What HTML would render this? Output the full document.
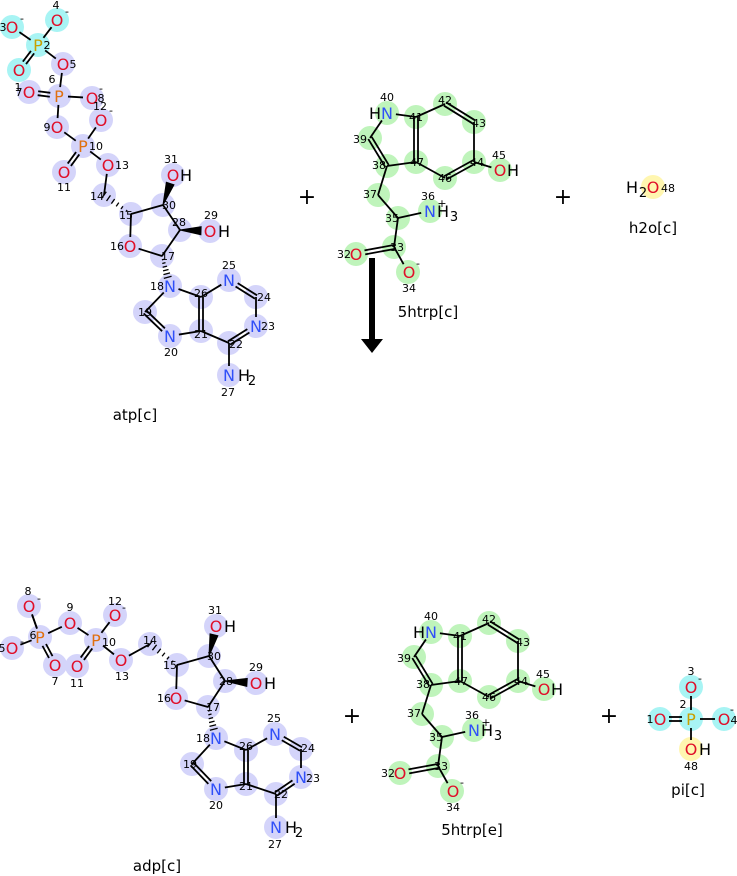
<!DOCTYPE html>
<html><head><meta charset="utf-8"><style>
html,body{margin:0;padding:0;background:#fff;width:737px;height:876px;overflow:hidden}
svg text{font-family:"DejaVu Sans","Liberation Sans",sans-serif}
.e{font-size:16px;text-anchor:middle}
.n{font-size:11px;fill:#000;text-anchor:middle}
.s{font-size:13px;fill:#000;text-anchor:middle}
.O{fill:#e0102a}.N{fill:#3050f8}.P{fill:#e07010}.P2{fill:#c8a000}.H{fill:#000}
.lb{font-size:15px;fill:#000;text-anchor:middle}
.pl{font-size:22px;fill:#000;text-anchor:middle}
</style></head><body>
<svg id="s" width="737" height="876" xmlns="http://www.w3.org/2000/svg">
<g id="circ"></g><g id="bond" stroke="#000" stroke-width="1.8" fill="none"></g><g id="wed" fill="#000" stroke="#000"></g>
<g id="txt">
<!-- ATP -->
<text class="e O" x="12" y="33">O</text><text class="n" x="3" y="31">3</text><text class="n" x="22" y="22">-</text>
<text class="e O" x="57" y="26">O</text><text class="n" x="56" y="9">4</text><text class="n" x="67" y="15">-</text>
<text class="e P2" x="38" y="51">P</text><text class="n" x="47" y="49">2</text>
<text class="e O" x="19" y="76">O</text><text class="n" x="18" y="91">1</text>
<text class="e O" x="63" y="70">O</text><text class="n" x="73" y="68">5</text>
<text class="e P" x="59" y="102">P</text><text class="n" x="52" y="83">6</text>
<text class="e O" x="29" y="98">O</text><text class="n" x="19" y="96">7</text>
<text class="e O" x="92" y="104">O</text><text class="n" x="101" y="102">8</text><text class="n" x="101" y="92">-</text>
<text class="e O" x="101" y="126">O</text><text class="n" x="100" y="110">12</text><text class="n" x="111" y="114">-</text>
<text class="e O" x="57" y="133">O</text><text class="n" x="47" y="131">9</text>
<text class="e P" x="83" y="152">P</text><text class="n" x="96" y="150">10</text>
<text class="e O" x="64" y="178">O</text><text class="n" x="64" y="191">11</text>
<text class="e O" x="108" y="171">O</text><text class="n" x="122" y="169">13</text>
<text class="n" x="97" y="200">14</text><text class="n" x="126" y="219">15</text>
<text class="e O" x="173" y="181">O</text><text class="e H" x="186" y="181">H</text><text class="n" x="171" y="163">31</text>
<text class="n" x="169" y="209">30</text><text class="n" x="179" y="226">28</text>
<text class="e O" x="210" y="237">O</text><text class="e H" x="224" y="237">H</text><text class="n" x="211" y="219">29</text>
<text class="e O" x="130" y="252">O</text><text class="n" x="117" y="250">16</text>
<text class="n" x="168" y="260">17</text>
<text class="e N" x="170" y="292">N</text><text class="n" x="157" y="290">18</text>
<text class="n" x="145" y="316">19</text>
<text class="e N" x="170" y="342">N</text><text class="n" x="171" y="356">20</text>
<text class="n" x="201" y="338">21</text><text class="n" x="201" y="297">26</text>
<text class="e N" x="229" y="286">N</text><text class="n" x="229" y="269">25</text>
<text class="n" x="264" y="301">24</text>
<text class="e N" x="256" y="332">N</text><text class="n" x="268" y="330">23</text>
<text class="n" x="236" y="348">22</text>
<text class="e N" x="229" y="381">N</text><text class="e H" x="244" y="381">H</text><text class="s" x="252" y="385">2</text><text class="n" x="228" y="396">27</text>
<text class="lb" x="135" y="420">atp[c]</text>
<text class="pl" x="307" y="204">+</text><text class="pl" x="563" y="204">+</text>
<!-- 5htrp c -->
<g>
<text class="e N" x="387" y="119">N</text><text class="e H" x="375" y="119">H</text><text class="n" x="387" y="101">40</text>
<text class="n" x="416" y="121">41</text><text class="n" x="445" y="104">42</text><text class="n" x="479" y="127">43</text>
<text class="n" x="477" y="166">44</text><text class="n" x="445" y="182">46</text><text class="n" x="417" y="166">47</text>
<text class="n" x="379" y="169">38</text><text class="n" x="360" y="143">39</text>
<text class="e O" x="500" y="176">O</text><text class="e H" x="513" y="176">H</text><text class="n" x="499" y="159">45</text>
<text class="n" x="370" y="198">37</text><text class="n" x="392" y="222">35</text>
<text class="e N" x="430" y="217">N</text><text class="e H" x="443" y="217">H</text><text class="s" x="454" y="221">3</text><text class="n" x="428" y="200">36</text><text class="n" x="442" y="207">+</text>
<text class="n" x="397" y="251">33</text>
<text class="e O" x="356" y="260">O</text><text class="n" x="344" y="258">32</text>
<text class="e O" x="409" y="278">O</text><text class="n" x="418" y="267">-</text><text class="n" x="409" y="292">34</text>
</g>
<text class="lb" x="428" y="317">5htrp[c]</text>
<text class="e H" x="632" y="193">H</text><text class="s" x="643" y="197">2</text><text class="e O" x="653" y="193">O</text><text class="n" x="668" y="192">48</text>
<text class="lb" x="653" y="233">h2o[c]</text>
<!-- ADP -->
<text class="e O" x="29" y="612">O</text><text class="n" x="28" y="595">8</text><text class="n" x="39" y="602">-</text>
<text class="e P" x="40" y="643">P</text><text class="n" x="33" y="639">6</text>
<text class="e O" x="12" y="654">O</text><text class="n" x="2" y="652">5</text><text class="n" x="22" y="645">-</text>
<text class="e O" x="55" y="671">O</text><text class="n" x="55" y="685">7</text>
<text class="e O" x="70" y="629">O</text><text class="n" x="70" y="611">9</text>
<text class="e P" x="96" y="646">P</text><text class="n" x="109" y="646">10</text>
<text class="e O" x="115" y="621">O</text><text class="n" x="115" y="605">12</text><text class="n" x="124" y="611">-</text>
<text class="e O" x="77" y="672">O</text><text class="n" x="77" y="687">11</text>
<text class="e O" x="121" y="666">O</text><text class="n" x="122" y="680">13</text>
<text class="n" x="150" y="644">14</text><text class="n" x="170" y="669">15</text>
<text class="e O" x="216" y="632">O</text><text class="e H" x="230" y="632">H</text><text class="n" x="215" y="614">31</text>
<text class="n" x="214" y="660">30</text><text class="n" x="226" y="685">28</text>
<text class="e O" x="256" y="689">O</text><text class="e H" x="270" y="689">H</text><text class="n" x="256" y="671">29</text>
<text class="e O" x="176" y="704">O</text><text class="n" x="164" y="702">16</text>
<text class="n" x="213" y="711">17</text>
<text class="e N" x="216" y="744">N</text><text class="n" x="203" y="742">18</text>
<text class="n" x="190" y="768">19</text>
<text class="e N" x="216" y="795">N</text><text class="n" x="216" y="809">20</text>
<text class="n" x="246" y="790">21</text><text class="n" x="246" y="750">26</text>
<text class="e N" x="275" y="740">N</text><text class="n" x="274" y="722">25</text>
<text class="n" x="308" y="752">24</text>
<text class="e N" x="301" y="783">N</text><text class="n" x="313" y="782">23</text>
<text class="n" x="281" y="798">22</text>
<text class="e N" x="276" y="833">N</text><text class="e H" x="291" y="833">H</text><text class="s" x="299" y="837">2</text><text class="n" x="275" y="848">27</text>
<text class="lb" x="157" y="871">adp[c]</text>
<text class="pl" x="352" y="723">+</text><text class="pl" x="609" y="723">+</text>
<g transform="translate(44,519)">
<text class="e N" x="387" y="119">N</text><text class="e H" x="375" y="119">H</text><text class="n" x="387" y="101">40</text>
<text class="n" x="416" y="121">41</text><text class="n" x="445" y="104">42</text><text class="n" x="479" y="127">43</text>
<text class="n" x="477" y="166">44</text><text class="n" x="445" y="182">46</text><text class="n" x="417" y="166">47</text>
<text class="n" x="379" y="169">38</text><text class="n" x="360" y="143">39</text>
<text class="e O" x="500" y="176">O</text><text class="e H" x="513" y="176">H</text><text class="n" x="499" y="159">45</text>
<text class="n" x="370" y="198">37</text><text class="n" x="392" y="222">35</text>
<text class="e N" x="430" y="217">N</text><text class="e H" x="443" y="217">H</text><text class="s" x="454" y="221">3</text><text class="n" x="428" y="200">36</text><text class="n" x="442" y="207">+</text>
<text class="n" x="397" y="251">33</text>
<text class="e O" x="356" y="260">O</text><text class="n" x="344" y="258">32</text>
<text class="e O" x="409" y="278">O</text><text class="n" x="418" y="267">-</text><text class="n" x="409" y="292">34</text>
</g>
<text class="lb" x="472" y="835">5htrp[e]</text>
<!-- pi -->
<text class="e O" x="691" y="693">O</text><text class="n" x="691" y="675">3</text><text class="n" x="700" y="682">-</text>
<text class="e P2" x="691" y="725">P</text><text class="n" x="683" y="708">2</text>
<text class="e O" x="660" y="725">O</text><text class="n" x="650" y="723">1</text>
<text class="e O" x="724" y="725">O</text><text class="n" x="734" y="724">4</text><text class="n" x="732" y="713">-</text>
<text class="e O" x="691" y="755">O</text><text class="e H" x="705" y="755">H</text><text class="n" x="691" y="770">48</text>
<text class="lb" x="688" y="795">pi[c]</text>
</g>
<line x1="372" y1="258" x2="372" y2="340" stroke="#000" stroke-width="6"/>
<polygon points="361,339 383,339 372,353" fill="#000"/>
</svg>
<script>
const NS="http://www.w3.org/2000/svg";
const C=document.getElementById('circ'),B=document.getElementById('bond'),W=document.getElementById('wed');
function circ(x,y,c){const e=document.createElementNS(NS,'circle');e.setAttribute('cx',x);e.setAttribute('cy',y);e.setAttribute('r',12);e.setAttribute('fill',c);C.appendChild(e);}
function trim(a,b){const dx=b[0]-a[0],dy=b[1]-a[1],L=Math.hypot(dx,dy),s=9/L;
 return [a[0]+dx*(a[2]?s:0),a[1]+dy*(a[2]?s:0),b[0]-dx*(b[2]?s:0),b[1]-dy*(b[2]?s:0),dx/L,dy/L];}
function ln(a,b,d){const [x1,y1,x2,y2,ux,uy]=trim(a,b);
 const mk=(o)=>{const e=document.createElementNS(NS,'line');const nx=-uy*o,ny=ux*o;
 e.setAttribute('x1',x1+nx);e.setAttribute('y1',y1+ny);e.setAttribute('x2',x2+nx);e.setAttribute('y2',y2+ny);B.appendChild(e);};
 if(d===1){mk(-2);mk(2);}else if(d===2){ // solid wedge
  const p=document.createElementNS(NS,'polygon');p.setAttribute('points',`${x1},${y1} ${x2-uy*4},${y2+ux*4} ${x2+uy*4},${y2-ux*4}`);W.appendChild(p);
 }else if(d===3){ // hashed
  for(let i=0;i<=6;i++){const t=i/6,cx=x1+(x2-x1)*t,cy=y1+(y2-y1)*t,w=0.5+3.5*t;
   const e=document.createElementNS(NS,'line');e.setAttribute('x1',cx-uy*w);e.setAttribute('y1',cy+ux*w);e.setAttribute('x2',cx+uy*w);e.setAttribute('y2',cy-ux*w);e.setAttribute('stroke-width','1.3');W.appendChild(e);}
 }else mk(0);}
const lav='#d4d4fa',cy='#a8f4f4',gr='#bff4bb',ye='#fff6b0';
function mol(atoms,bonds,col){for(const k in atoms){const a=atoms[k];circ(a[0],a[1],a[3]||col);}for(const b of bonds)ln(atoms[b[0]],atoms[b[1]],b[2]);}
const atp={3:[12,27,1,cy],4:[57,20,1,cy],2:[38,45,1,cy],1:[19,70,1,cy],5:[63,64,1],6:[59,96,1],7:[29,92,1],8:[92,98,1],12:[101,120,1],9:[57,127,1],10:[83,146,1],11:[64,172,1],13:[108,165,1],14:[104,195,0],15:[131,214,0],30:[163,205,0],31:[173,175,1],28:[180,230,0],29:[210,231,1],16:[130,246,1],17:[162,256,0],18:[170,286,1],19:[145,312,0],20:[170,336,1],21:[201,331,0],26:[201,297,0],25:[229,280,1],24:[256,297,0],23:[256,326,1],22:[229,343,0],27:[229,375,1]};
const purB=[[6,7,1],[6,8],[6,9],[9,10],[10,12],[10,11,1],[10,13],[13,14],[15,14,3],[15,30],[15,16],[30,31,2],[30,28],[28,29,2],[28,17],[17,16],[17,18,3],[18,19],[19,20,1],[20,21],[21,26,1],[26,18],[26,25],[25,24,1],[24,23],[23,22,1],[22,21],[22,27]];
mol(atp,[[3,2],[4,2],[2,1,1],[2,5],[5,6]].concat(purB),lav);
const adp={8:[29,606,1],6:[40,637,1],5:[12,648,1],7:[55,665,1],9:[70,623,1],10:[96,640,1],12:[115,615,1],11:[77,666,1],13:[121,660,1],14:[150,644,0],15:[177,665,0],30:[209,656,0],31:[216,626,1],28:[225,681,0],29:[256,683,1],16:[176,698,1],17:[208,707,0],18:[216,738,1],19:[192,764,0],20:[216,789,1],21:[246,784,0],26:[246,750,0],25:[275,734,1],24:[301,749,0],23:[301,777,1],22:[276,794,0],27:[276,827,1]};
mol(adp,[[8,6],[5,6]].concat(purB),lav);
function ht(dx,dy){const a={40:[387,113,1],41:[416,117,0],42:[445,104,0],43:[474,122,0],44:[474,162,0],46:[445,178,0],47:[416,162,0],38:[387,166,0],39:[370,138,0],45:[500,170,1],37:[378,195,0],35:[398,218,0],36:[430,211,1],33:[394,247,0],32:[356,254,1],34:[408,272,1]};
 for(const k in a){a[k][0]+=dx;a[k][1]+=dy;}
 mol(a,[[40,41],[41,42],[42,43,1],[43,44],[44,46,1],[46,47],[47,41,1],[47,38],[38,39,1],[39,40],[44,45],[38,37],[37,35],[35,36],[35,33],[33,32,1],[33,34]],gr);}
ht(0,0);ht(44,519);
circ(653,187,ye);
const pi={3:[691,687,1,cy],2:[691,719,1,cy],1:[660,719,1,cy],4:[724,719,1,cy],48:[691,749,1,ye]};
mol(pi,[[3,2],[2,1,1],[2,4],[2,48]],cy);
</script>
</body></html>
